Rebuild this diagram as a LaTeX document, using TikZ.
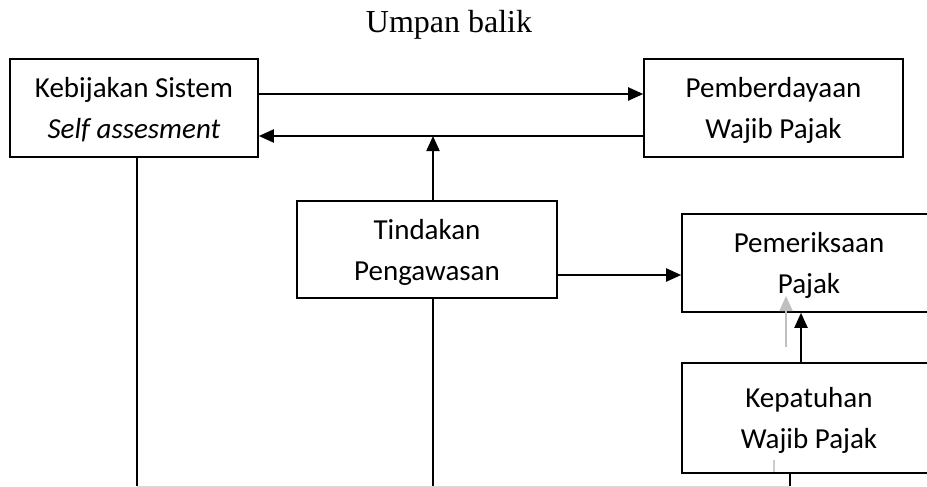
\documentclass[tikz,border=0pt]{standalone}
\usepackage{fontspec}
\setmainfont{Carlito}
\newfontfamily\titlefont{Liberation Serif}
\usetikzlibrary{arrows.meta}
\newcommand{\twolines}[2]{\rule{0pt}{30pt}#1\\#2\rule[-10pt]{0pt}{0pt}}
\tikzset{
  box/.style={draw, line width=1.6pt, rectangle, align=center, inner sep=0pt,
    font=\fontsize{29}{41}\selectfont},
  arr/.style={line width=2pt, -{Triangle[length=15pt,width=13pt]}},
  garr/.style={line width=2pt, color=black!25, -{Triangle[length=15pt,width=13pt]}},
  ln/.style={line width=1.6pt},
  gln/.style={line width=1pt, color=black!15},
}
\begin{document}
\begin{tikzpicture}[x=1pt,y=-1pt]
\useasboundingbox (0,0) rectangle (927,487);
\node[font=\titlefont\fontsize{32}{38}\selectfont, anchor=base] (title) at (449,33) {Umpan balik};
\node[box, minimum width=248pt, minimum height=98pt] (keb) at (134,108) {\twolines{Kebijakan Sistem}{\textit{Self assesment}}};
\node[box, minimum width=259pt, minimum height=98pt] (pemb) at (773.5,108) {\twolines{Pemberdayaan}{Wajib Pajak}};
\node[box, minimum width=260pt, minimum height=97pt] (tind) at (427,249.5) {\twolines{Tindakan}{Pengawasan}};
\node[box, minimum width=254pt, minimum height=98pt] (pem) at (809,263) {\twolines{Pemeriksaan}{Pajak}};
\node[box, minimum width=254pt, minimum height=110pt] (kep) at (809,418) {\twolines{Kepatuhan}{Wajib Pajak}};
\coordinate (ya) at (0,94);
\coordinate (yb) at (0,136);
\coordinate (yc) at (0,275);
\coordinate (vx) at (433,0);
\coordinate (kx) at (137,0);
\coordinate (px) at (801,0);
\coordinate (bx) at (790,0);
\coordinate (ybot) at (0,486);
\coordinate (g1) at (786,347);
\coordinate (g2) at (786,296);
\coordinate (s1) at (774,460);
\coordinate (s2) at (774,472);
\draw[arr] (keb.east |- ya) -- (pemb.west |- ya);
\draw[arr] (pemb.west |- yb) -- (keb.east |- yb);
\draw[arr] (vx |- tind.north) -- (vx |- yb);
\draw[arr] (tind.east |- yc) -- (pem.west |- yc);
\draw[arr] (px |- kep.north) -- (px |- pem.south);
\draw[garr] (g1) -- (g2);
\draw[line width=2pt, color=black!20] (s1) -- (s2);
\draw[gln] (kx |- ybot) -- (bx |- ybot);
\draw[ln] (kx |- keb.south) -- (kx |- ybot);
\draw[ln] (vx |- tind.south) -- (vx |- ybot);
\draw[ln] (bx |- kep.south) -- (bx |- ybot);
\end{tikzpicture}
\end{document}
